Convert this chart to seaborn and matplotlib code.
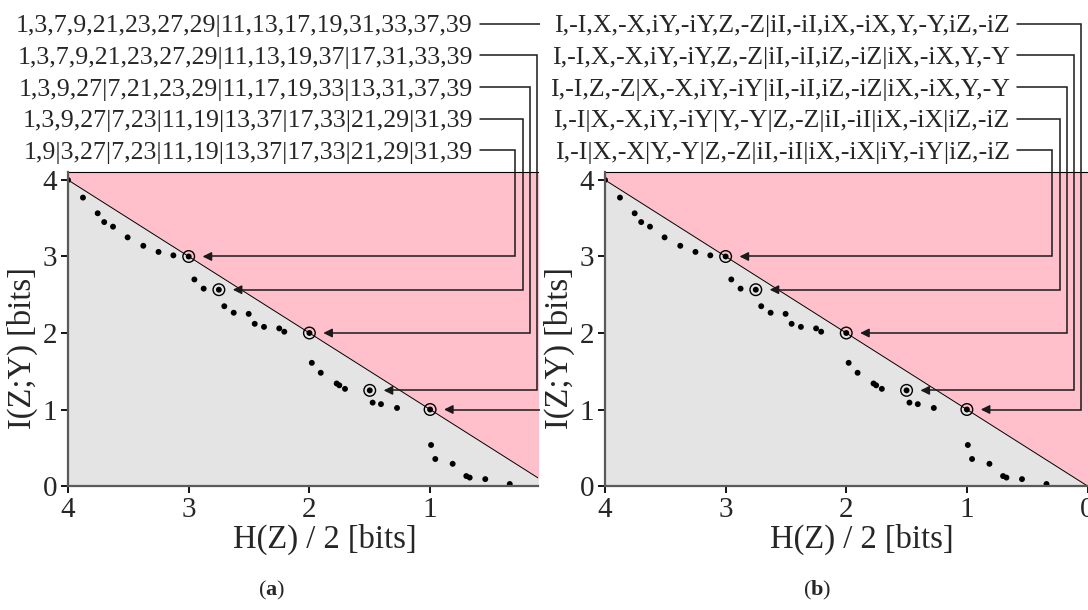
import matplotlib
matplotlib.use("Agg")
import matplotlib.pyplot as plt
import seaborn as sns
import numpy as np
from matplotlib.transforms import Bbox, TransformedBbox

# ---------------- data ----------------
hz_half = [4.0, 3.876, 3.754, 3.70, 3.627, 3.506, 3.376, 3.25, 3.127, 3.0,
           2.953, 2.876, 2.75, 2.705, 2.627, 2.503, 2.453, 2.376, 2.25, 2.208,
           2.0, 1.98, 1.906, 1.774, 1.752, 1.705, 1.5, 1.476, 1.407, 1.274,
           1.0, 0.992, 0.957, 0.813, 0.70, 0.672, 0.543, 0.34]
izy = [4.0, 3.77, 3.565, 3.45, 3.39, 3.25, 3.14, 3.06, 3.015, 3.0,
       2.70, 2.58, 2.566, 2.35, 2.265, 2.25, 2.12, 2.08, 2.06, 2.017,
       2.0, 1.61, 1.48, 1.34, 1.316, 1.27, 1.25, 1.09, 1.07, 1.02,
       1.0, 0.536, 0.353, 0.29, 0.13, 0.11, 0.09, 0.026]

# highlighted partitions (top label first)
hl_x = [1.0, 1.5, 2.0, 2.75, 3.0]
hl_y = [1.0, 1.25, 2.0, 2.566, 3.0]

labels_a = [
    "1,3,7,9,21,23,27,29|11,13,17,19,31,33,37,39",
    "1,3,7,9,21,23,27,29|11,13,19,37|17,31,33,39",
    "1,3,9,27|7,21,23,29|11,17,19,33|13,31,37,39",
    "1,3,9,27|7,23|11,19|13,37|17,33|21,29|31,39",
    "1,9|3,27|7,23|11,19|13,37|17,33|21,29|31,39",
]
labels_b = [
    "I,-I,X,-X,iY,-iY,Z,-Z|iI,-iI,iX,-iX,Y,-Y,iZ,-iZ",
    "I,-I,X,-X,iY,-iY,Z,-Z|iI,-iI,iZ,-iZ|iX,-iX,Y,-Y",
    "I,-I,Z,-Z|X,-X,iY,-iY|iI,-iI,iZ,-iZ|iX,-iX,Y,-Y",
    "I,-I|X,-X,iY,-iY|Y,-Y|Z,-Z|iI,-iI|iX,-iX|iZ,-iZ",
    "I,-I|X,-X|Y,-Y|Z,-Z|iI,-iI|iX,-iX|iY,-iY|iZ,-iZ",
]
x_ticks_a = [4, 3, 2, 1]
x_ticks_b = [4, 3, 2, 1, 0]
y_ticks = [0, 1, 2, 3, 4]

# ---------------- style ----------------
sns.set_style("ticks")
plt.rcParams["font.family"] = ["Liberation Serif", "DejaVu Serif"]
plt.rcParams["mathtext.fontset"] = "custom"
plt.rcParams["mathtext.rm"] = "Liberation Serif"
plt.rcParams["mathtext.bf"] = "Liberation Serif:bold"

W, H = 1088, 610
fig = plt.figure(figsize=(W / 100, H / 100), dpi=100)

unit_x = 120.7  # px per bit
ax_bottom_px, ax_h_px = 486, 314
ylim_top = ax_h_px / 76.5

PINK = "#ffc0cb"
GRAY = "#e4e4e4"
SPINE = "#5a5a5a"

panels = [
    dict(left=68, right=538, labels=labels_a, xt=x_ticks_a, cap="a", clipx=540,
         capx=272, xlab_c=325, ylab_c=22),
    dict(left=605, right=1087.5, labels=labels_b, xt=x_ticks_b, cap="b", clipx=None,
         capx=817, xlab_c=862, ylab_c=559),
]

vert_x = [0.05, 0.111, 0.172, 0.232, 0.296]
label_y0 = 6.04
label_dy = 0.4125
text_end_x = 0.645
line_start_x = 0.587
tip_off = 0.115

for p in panels:
    ax = fig.add_axes([p["left"] / W, (H - ax_bottom_px) / H,
                       (p["right"] - p["left"]) / W, ax_h_px / H])
    xr = 4 - (p["right"] - p["left"]) / unit_x
    ax.set_xlim(4, xr)
    ax.set_ylim(0, ylim_top)

    xs = np.array([4.0, min(xr, 0) - 0.5])
    ax.fill_between(xs, 0, xs, color=GRAY, lw=0, zorder=0)
    ax.fill_between(xs, xs, ylim_top + 1, color=PINK, lw=0, zorder=0)
    ax.plot(xs, xs, color="black", lw=0.7, zorder=1)

    sns.scatterplot(x=hz_half, y=izy, ax=ax, color="black", s=18,
                    edgecolor="none", linewidth=0, zorder=3, legend=False)
    ax.scatter(hl_x, hl_y, s=70, facecolors="none", edgecolors="black",
               linewidths=1.0, zorder=3)

    clip_box = None
    if p["clipx"] is not None:
        clip_box = TransformedBbox(Bbox([[0, 0], [p["clipx"] / W, 1]]), fig.transFigure)

    for i, (lab, px_, py_) in enumerate(zip(p["labels"], hl_x, hl_y)):
        ly = label_y0 - i * label_dy
        ax.text(text_end_x, ly, lab, ha="right", va="center_baseline",
                fontsize=18.6, clip_on=False)
        vx = vert_x[i]
        tip = px_ - tip_off
        ln, = ax.plot([line_start_x, vx, vx, tip - 0.03], [ly, ly, py_, py_],
                      color="#1a1a1a", lw=1.1, solid_joinstyle="miter", zorder=4)
        if clip_box is not None:
            ln.set_clip_on(True)
            ln.set_clip_box(clip_box)
        else:
            ln.set_clip_on(False)
        ax.annotate("", xy=(tip, py_), xytext=(tip - 0.07, py_),
                    arrowprops=dict(arrowstyle="-|>", color="#1a1a1a", lw=1.1,
                                    mutation_scale=13, shrinkA=0, shrinkB=0),
                    zorder=5)

    ax.set_xticks(p["xt"])
    ax.set_yticks(y_ticks)
    ax.tick_params(axis="both", labelsize=21, length=5, width=1.3,
                   color="black", pad=3, direction="out")
    ax.set_xlabel("H(Z) / 2 [bits]", fontsize=23.5)
    ax.set_ylabel("I(Z;Y) [bits]", fontsize=23.5)
    ax.xaxis.set_label_coords((p["xlab_c"] - p["left"]) / (p["right"] - p["left"]),
                              -(539 - ax_bottom_px) / ax_h_px)
    ax.yaxis.set_label_coords(-(p["left"] - p["ylab_c"]) / (p["right"] - p["left"]), 0.44)
    ax.xaxis.label.set_va("center")
    ax.yaxis.label.set_va("center")
    for s in ["left", "bottom"]:
        ax.spines[s].set_color(SPINE)
        ax.spines[s].set_linewidth(1.6)
        ax.spines[s].set_zorder(6)
    ax.spines["top"].set_color("black")
    ax.spines["top"].set_linewidth(0.8)
    ax.spines["right"].set_visible(False)

    fig.text(p["capx"] / W, 1 - 590 / H, r"($\mathbf{" + p["cap"] + r"}$)",
             ha="center", va="center", fontsize=16)

fig.savefig("out.png", dpi=100)
